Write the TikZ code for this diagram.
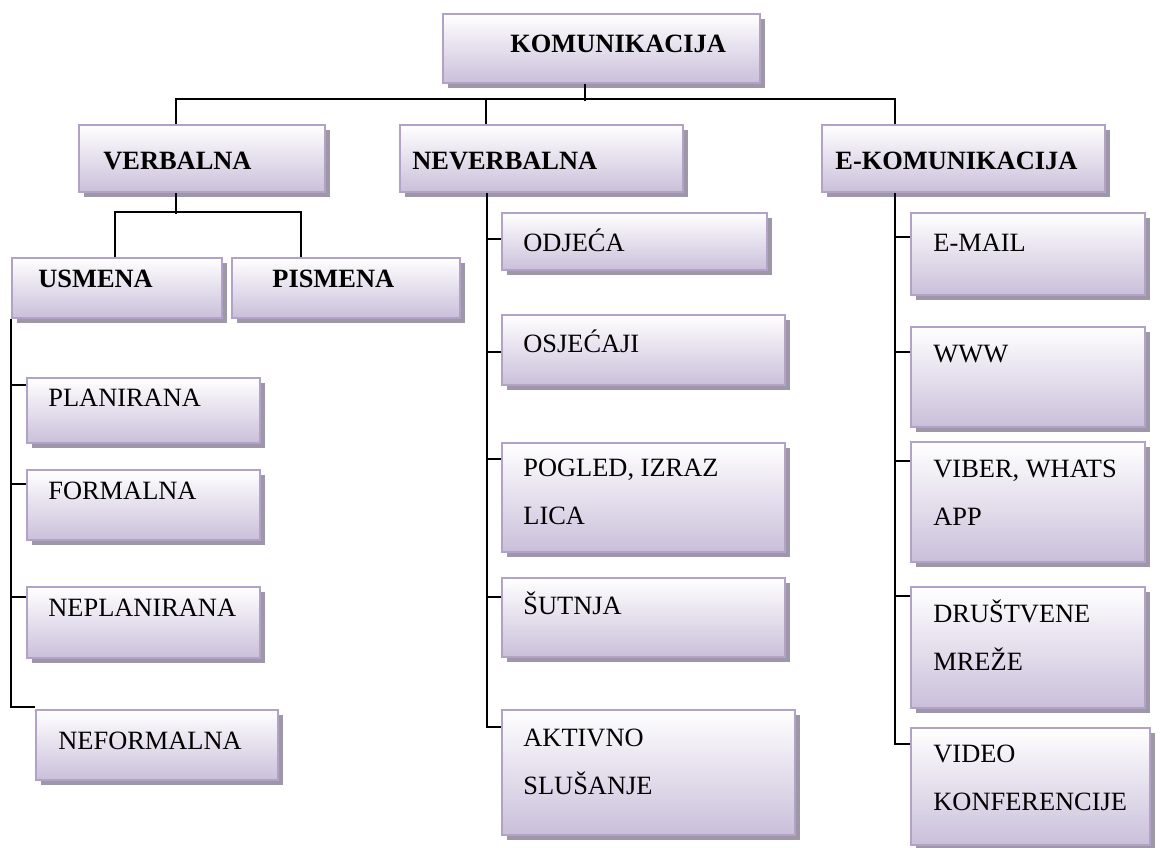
\documentclass[tikz,border=0pt]{standalone}
\usepackage{fontspec}
\setmainfont{Liberation Serif}
\usetikzlibrary{positioning,fit,shadows}

\definecolor{rub}{HTML}{B3A2C7}
\definecolor{dno}{HTML}{CABFDA}
\definecolor{sjena}{HTML}{9E97A8}

\tikzset{
  kutija/.style={draw=rub, line width=1pt, inner sep=0pt, top color=white, bottom color=dno,
    drop shadow={shadow xshift=2.5pt, shadow yshift=-2.5pt, fill=sjena, opacity=1}},
  tekst/.style={anchor=base west, inner sep=0pt, align=left, font=\fontsize{13.2}{24}\selectfont},
  naslov/.style={tekst, font=\fontsize{13.2}{24}\selectfont\bfseries},
  veza/.style={draw=black, line width=0.9pt}
}

\begin{document}
\begin{tikzpicture}[x=0.5pt, y=-0.5pt]
    \useasboundingbox (0,0) rectangle (1160,847);
    \begin{scope}
        \node[kutija, fit={(443,14) (760,83)}] (kom) {};
        \node[kutija, fit={(79,125) (325,192)}] (verbalna) {};
        \node[kutija, fit={(400,125) (683,192)}] (neverbalna) {};
        \node[kutija, fit={(822,125) (1105,192)}] (ekom) {};
        \node[kutija, fit={(12,258) (222,318)}] (usmena) {};
        \node[kutija, fit={(232,258) (460,318)}] (pismena) {};
        \node[kutija, fit={(27,378) (260,443)}] (planirana) {};
        \node[kutija, fit={(27,470) (260,540)}] (formalna) {};
        \node[kutija, fit={(27,587) (260,658)}] (neplanirana) {};
        \node[kutija, fit={(36,710) (278,780)}] (neformalna) {};
        \node[kutija, fit={(502,213) (767,270)}] (odjeca) {};
        \node[kutija, fit={(502,315) (785,385)}] (osjecaji) {};
        \node[kutija, fit={(502,443) (785,552)}] (pogled) {};
        \node[kutija, fit={(502,578) (785,657)}] (sutnja) {};
        \node[kutija, fit={(502,710) (795,835)}] (aktivno) {};
        \node[kutija, fit={(911,213) (1145,295)}] (email) {};
        \node[kutija, fit={(911,327) (1145,427)}] (www) {};
        \node[kutija, fit={(911,442) (1145,562)}] (viber) {};
        \node[kutija, fit={(911,587) (1145,708)}] (drustvene) {};
        \node[kutija, fit={(911,728) (1150,845)}] (video) {};

        \node[naslov] at (510,52) (t-kom) {KOMUNIKACIJA};
        \node[naslov] at (103,169) (t-verbalna) {VERBALNA};
        \node[naslov] at (412,169) (t-neverbalna) {NEVERBALNA};
        \node[naslov] at (835,169) (t-ekom) {E-KOMUNIKACIJA};
        \node[naslov] at (38,287) (t-usmena) {USMENA};
        \node[naslov] at (272,287) (t-pismena) {PISMENA};
        \node[tekst] at (48,406) (t-planirana) {PLANIRANA};
        \node[tekst] at (48,499) (t-formalna) {FORMALNA};
        \node[tekst] at (48,616) (t-neplanirana) {NEPLANIRANA};
        \node[tekst] at (58,749) (t-neformalna) {NEFORMALNA};
        \node[tekst] at (523,251) (t-odjeca) {ODJEĆA};
        \node[tekst] at (523,352) (t-osjecaji) {OSJEĆAJI};
        \node[tekst] at (523,524) (t-pogled) {POGLED, IZRAZ\\LICA};
        \node[tekst] at (523,614) (t-sutnja) {ŠUTNJA};
        \node[tekst] at (523,794) (t-aktivno) {AKTIVNO\\SLUŠANJE};
        \node[tekst] at (933,251) (t-email) {E-MAIL};
        \node[tekst] at (933,362) (t-www) {WWW};
        \node[tekst] at (933,525) (t-viber) {VIBER, WHATS\\APP};
        \node[tekst] at (933,670) (t-drustvene) {DRUŠTVENE\\MREŽE};
        \node[tekst] at (933,810) (t-video) {VIDEO\\KONFERENCIJE};
    \end{scope}

    \draw[veza] ([xshift=71.5pt]kom.south west) -- ++(0,-8.5pt);
    \draw[veza] ([xshift=49pt]verbalna.north west) -- ++(0,12.5pt) -| ([xshift=37pt]ekom.north west);
    \draw[veza] ([xshift=43.5pt]neverbalna.north west) -- ++(0,12.5pt);

    \draw[veza] ([xshift=49pt]verbalna.south west) -- ++(0,-10.5pt);
    \draw[veza] ([xshift=52pt]usmena.north west) -- ++(0,22.5pt) -| ([xshift=35pt]pismena.north west);

    \draw[veza] (usmena.south west) |- ([yshift=-4pt]planirana.north west);
    \draw[veza] (usmena.south west) |- ([yshift=-7.5pt]formalna.north west);
    \draw[veza] (usmena.south west) |- ([yshift=-5.5pt]neplanirana.north west);
    \draw[veza] (usmena.south west) |- ([yshift=1pt]neformalna.north west);

    \draw[veza] ([xshift=44pt]neverbalna.south west) |- ([yshift=-13.5pt]odjeca.north west);
    \draw[veza] ([xshift=44pt]neverbalna.south west) |- ([yshift=-19pt]osjecaji.north west);
    \draw[veza] ([xshift=44pt]neverbalna.south west) |- ([yshift=-8.5pt]pogled.north west);
    \draw[veza] ([xshift=44pt]neverbalna.south west) |- ([yshift=-10pt]sutnja.north west);
    \draw[veza] ([xshift=44pt]neverbalna.south west) |- ([yshift=-9pt]aktivno.north west);

    \draw[veza] ([xshift=37pt]ekom.south west) |- ([yshift=-12.5pt]email.north west);
    \draw[veza] ([xshift=37pt]ekom.south west) |- ([yshift=-13pt]www.north west);
    \draw[veza] ([xshift=37pt]ekom.south west) |- ([yshift=-10pt]viber.north west);
    \draw[veza] ([xshift=37pt]ekom.south west) |- ([yshift=-5pt]drustvene.north west);
    \draw[veza] ([xshift=37pt]ekom.south west) |- ([yshift=-8.5pt]video.north west);

\end{tikzpicture}
\end{document}
